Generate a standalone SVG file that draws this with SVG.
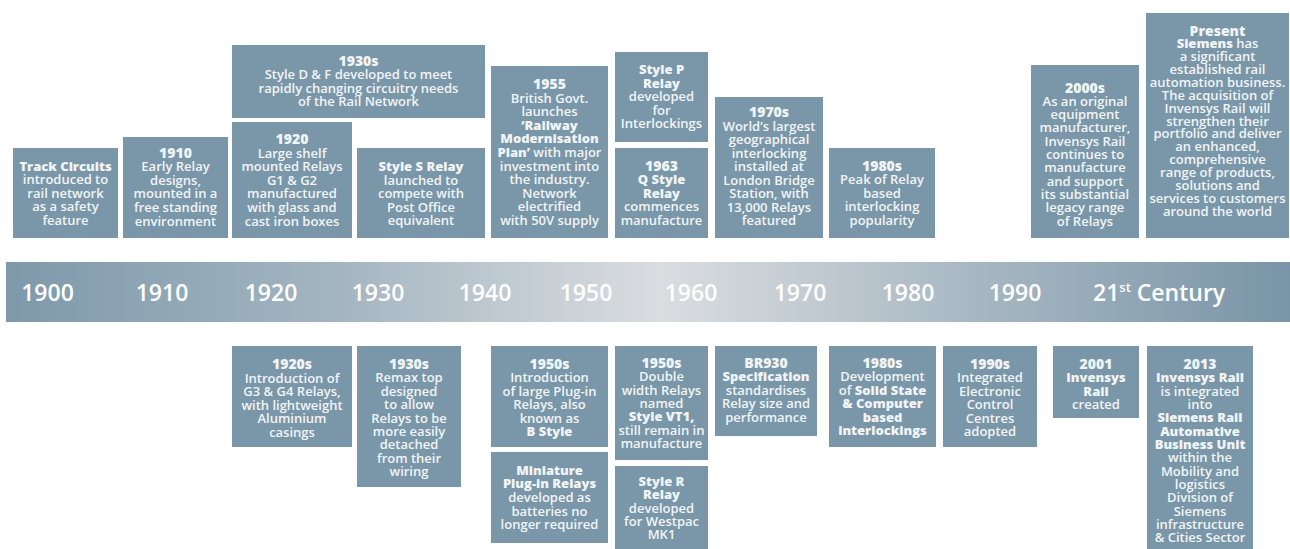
<svg xmlns="http://www.w3.org/2000/svg" width="1290" height="549" viewBox="0 0 1290 549">
<style>
.box{fill:#7a97a9}
.t{font-family:"Open Sans","Noto Sans",sans-serif;font-size:13px;font-weight:600;fill:#f1f4f6;text-anchor:middle}
.h{font-size:14px;font-weight:800}
.b{font-weight:800}
.yr{font-family:"Open Sans","Noto Sans",sans-serif;font-size:23px;font-weight:600;fill:#ffffff;text-anchor:middle}
</style>
<defs>
<linearGradient id="bar" x1="0" y1="0" x2="1" y2="0">
<stop offset="0" stop-color="#7e99ab"/>
<stop offset="0.25" stop-color="#a2b4c0"/>
<stop offset="0.51" stop-color="#dadde0"/>
<stop offset="0.75" stop-color="#a8b8c3"/>
<stop offset="1" stop-color="#7995a7"/>
</linearGradient>
</defs>
<rect width="1290" height="549" fill="#ffffff"/>
<g id="timeline">
<rect x="6" y="262" width="1284" height="60" fill="url(#bar)"/>
<text class="yr" x="47.5" y="301">1900</text>
<text class="yr" x="162" y="301">1910</text>
<text class="yr" x="271" y="301">1920</text>
<text class="yr" x="378" y="301">1930</text>
<text class="yr" x="485" y="301">1940</text>
<text class="yr" x="586" y="301">1950</text>
<text class="yr" x="691" y="301">1960</text>
<text class="yr" x="800" y="301">1970</text>
<text class="yr" x="908" y="301">1980</text>
<text class="yr" x="1015" y="301">1990</text>
<text class="yr" x="1093" y="301" style="text-anchor:start">21<tspan font-size="13" dy="-9">st</tspan><tspan dy="9"> Century</tspan></text>
</g>
<g id="connectors"/>
<g id="n-track"><rect class="box" x="13" y="148" width="105" height="90"/>
<text class="t"><tspan class="b" x="65.5" y="170.5">Track Circuits</tspan><tspan x="65.5" y="184.1">introduced to</tspan><tspan x="65.5" y="197.7">rail network</tspan><tspan x="65.5" y="211.3">as a safety</tspan><tspan x="65.5" y="224.9">feature</tspan></text></g>
<g id="n-1910"><rect class="box" x="123" y="137" width="105" height="101"/>
<text class="t"><tspan class="h" x="175.5" y="157.5">1910</tspan><tspan x="175.5" y="171.2">Early Relay</tspan><tspan x="175.5" y="184.8">designs,</tspan><tspan x="175.5" y="198.4">mounted in a</tspan><tspan x="175.5" y="212">free standing</tspan><tspan x="175.5" y="225.6">environment</tspan></text></g>
<g id="n-1920"><rect class="box" x="232" y="122" width="120" height="116"/>
<text class="t"><tspan class="h" x="292" y="144">1920</tspan><tspan x="292" y="157.6">Large shelf</tspan><tspan x="292" y="171.2">mounted Relays</tspan><tspan x="292" y="184.8">G1 &amp; G2</tspan><tspan x="292" y="198.4">manufactured</tspan><tspan x="292" y="212">with glass and</tspan><tspan x="292" y="225.6">cast iron boxes</tspan></text></g>
<g id="n-1930s-top"><rect class="box" x="232" y="45" width="253" height="73"/>
<text class="t"><tspan class="h" x="358.5" y="66">1930s</tspan><tspan x="358.5" y="79.4">Style D &amp; F developed to meet</tspan><tspan x="358.5" y="92.8">rapidly changing circuitry needs</tspan><tspan x="358.5" y="106.2">of the Rail Network</tspan></text></g>
<g id="n-styles"><rect class="box" x="357" y="148" width="128" height="90"/>
<text class="t"><tspan class="b" x="421" y="171">Style S Relay</tspan><tspan x="421" y="184.6">launched to</tspan><tspan x="421" y="198.2">compete with</tspan><tspan x="421" y="211.8">Post Office</tspan><tspan x="421" y="225.4">equivalent</tspan></text></g>
<g id="n-1955"><rect class="box" x="491" y="66" width="117" height="172"/>
<text class="t"><tspan class="h" x="549.5" y="89">1955</tspan><tspan x="549.5" y="102.6">British Govt.</tspan><tspan x="549.5" y="116.2">launches</tspan><tspan class="b" x="549.5" y="129.8">‘Railway</tspan><tspan class="b" x="549.5" y="143.4">Modernisation</tspan><tspan x="549.5" y="157"><tspan class="b">Plan’</tspan> with major</tspan><tspan x="549.5" y="170.6">investment into</tspan><tspan x="549.5" y="184.2">the industry.</tspan><tspan x="549.5" y="197.8">Network</tspan><tspan x="549.5" y="211.4">electrified</tspan><tspan x="549.5" y="225">with 50V supply</tspan></text></g>
<g id="n-stylep"><rect class="box" x="615" y="52" width="93" height="90"/>
<text class="t"><tspan class="b" x="661.5" y="74">Style P</tspan><tspan class="b" x="661.5" y="87.5">Relay</tspan><tspan x="661.5" y="101">developed</tspan><tspan x="661.5" y="114.5">for</tspan><tspan x="661.5" y="128">Interlockings</tspan></text></g>
<g id="n-1963"><rect class="box" x="615" y="148" width="93" height="90"/>
<text class="t"><tspan class="h" x="661.5" y="170.5">1963</tspan><tspan class="b" x="661.5" y="184.1">Q Style</tspan><tspan class="b" x="661.5" y="197.7">Relay</tspan><tspan x="661.5" y="211.3">commences</tspan><tspan x="661.5" y="224.9">manufacture</tspan></text></g>
<g id="n-1970s"><rect class="box" x="715" y="97" width="108" height="141"/>
<text class="t"><tspan class="h" x="769" y="117.2">1970s</tspan><tspan x="769" y="130.7">World’s largest</tspan><tspan x="769" y="144.2">geographical</tspan><tspan x="769" y="157.7">interlocking</tspan><tspan x="769" y="171.2">installed at</tspan><tspan x="769" y="184.7">London Bridge</tspan><tspan x="769" y="198.2">Station, with</tspan><tspan x="769" y="211.7">13,000 Relays</tspan><tspan x="769" y="225.2">featured</tspan></text></g>
<g id="n-1980s-top"><rect class="box" x="829" y="148" width="106" height="90"/>
<text class="t"><tspan class="h" x="882" y="170.5">1980s</tspan><tspan x="882" y="184.1">Peak of Relay</tspan><tspan x="882" y="197.7">based</tspan><tspan x="882" y="211.3">interlocking</tspan><tspan x="882" y="224.9">popularity</tspan></text></g>
<g id="n-2000s"><rect class="box" x="1031" y="65" width="108" height="173"/>
<text class="t"><tspan class="h" x="1085" y="92.5">2000s</tspan><tspan x="1085" y="105.8">As an original</tspan><tspan x="1085" y="119.1">equipment</tspan><tspan x="1085" y="132.4">manufacturer,</tspan><tspan x="1085" y="145.7">Invensys Rail</tspan><tspan x="1085" y="159">continues to</tspan><tspan x="1085" y="172.3">manufacture</tspan><tspan x="1085" y="185.6">and support</tspan><tspan x="1085" y="198.9">its substantial</tspan><tspan x="1085" y="212.2">legacy range</tspan><tspan x="1085" y="225.5">of Relays</tspan></text></g>
<g id="n-present"><rect class="box" x="1146" y="13" width="143" height="225"/>
<text class="t"><tspan class="h" x="1217.5" y="35.5">Present</tspan><tspan x="1217.5" y="48.4"><tspan class="b">Siemens</tspan> has</tspan><tspan x="1217.5" y="61.2">a significant</tspan><tspan x="1217.5" y="74.1">established rail</tspan><tspan x="1217.5" y="86.9">automation business.</tspan><tspan x="1217.5" y="99.8">The acquisition of</tspan><tspan x="1217.5" y="112.7">Invensys Rail will</tspan><tspan x="1217.5" y="125.5">strengthen their</tspan><tspan x="1217.5" y="138.4">portfolio and deliver</tspan><tspan x="1217.5" y="151.2">an enhanced,</tspan><tspan x="1217.5" y="164.1">comprehensive</tspan><tspan x="1217.5" y="177">range of products,</tspan><tspan x="1217.5" y="189.8">solutions and</tspan><tspan x="1217.5" y="202.7">services to customers</tspan><tspan x="1217.5" y="215.5">around the world</tspan></text></g>
<g id="n-1920s"><rect class="box" x="232" y="346" width="120" height="101"/>
<text class="t"><tspan class="h" x="292" y="369">1920s</tspan><tspan x="292" y="382.5">Introduction of</tspan><tspan x="292" y="396">G3 &amp; G4 Relays,</tspan><tspan x="292" y="409.5">with lightweight</tspan><tspan x="292" y="423">Aluminium</tspan><tspan x="292" y="436.5">casings</tspan></text></g>
<g id="n-1930s-bot"><rect class="box" x="357" y="346" width="104" height="141"/>
<text class="t"><tspan class="h" x="409" y="369">1930s</tspan><tspan x="409" y="382.4">Remax top</tspan><tspan x="409" y="395.8">designed</tspan><tspan x="409" y="409.2">to allow</tspan><tspan x="409" y="422.6">Relays to be</tspan><tspan x="409" y="436">more easily</tspan><tspan x="409" y="449.4">detached</tspan><tspan x="409" y="462.8">from their</tspan><tspan x="409" y="476.2">wiring</tspan></text></g>
<g id="n-1950s-b"><rect class="box" x="491" y="346" width="117" height="101"/>
<text class="t"><tspan class="h" x="549.5" y="369">1950s</tspan><tspan x="549.5" y="382.4">Introduction</tspan><tspan x="549.5" y="395.8">of large Plug-in</tspan><tspan x="549.5" y="409.2">Relays, also</tspan><tspan x="549.5" y="422.6">known as</tspan><tspan class="b" x="549.5" y="436">B Style</tspan></text></g>
<g id="n-miniature"><rect class="box" x="491" y="452" width="117" height="91"/>
<text class="t"><tspan class="b" x="549.5" y="474.5">Miniature</tspan><tspan class="b" x="549.5" y="488.2">Plug-in Relays</tspan><tspan x="549.5" y="501.9">developed as</tspan><tspan x="549.5" y="515.6">batteries no</tspan><tspan x="549.5" y="529.3">longer required</tspan></text></g>
<g id="n-1950s-vt1"><rect class="box" x="615" y="346" width="93" height="114"/>
<text class="t"><tspan class="h" x="661.5" y="368">1950s</tspan><tspan x="661.5" y="381.3">Double</tspan><tspan x="661.5" y="394.7">width Relays</tspan><tspan x="661.5" y="408">named</tspan><tspan class="b" x="661.5" y="421.4">Style VT1,</tspan><tspan x="661.5" y="434.7">still remain in</tspan><tspan x="661.5" y="448">manufacture</tspan></text></g>
<g id="n-styler"><rect class="box" x="615" y="466" width="93" height="83"/>
<text class="t"><tspan class="b" x="661.5" y="486">Style R</tspan><tspan class="b" x="661.5" y="499.3">Relay</tspan><tspan x="661.5" y="512.6">developed</tspan><tspan x="661.5" y="525.9">for Westpac</tspan><tspan x="661.5" y="539.2">MK1</tspan></text></g>
<g id="n-br930"><rect class="box" x="715" y="346" width="102" height="90"/>
<text class="t"><tspan class="h" x="766" y="368">BR930</tspan><tspan class="b" x="766" y="381.4">Specification</tspan><tspan x="766" y="394.8">standardises</tspan><tspan x="766" y="408.2">Relay size and</tspan><tspan x="766" y="421.6">performance</tspan></text></g>
<g id="n-1980s-bot"><rect class="box" x="829" y="346" width="107" height="101"/>
<text class="t"><tspan class="h" x="882.5" y="368">1980s</tspan><tspan x="882.5" y="381.4">Development</tspan><tspan x="882.5" y="394.8">of <tspan class="b">Solid State</tspan></tspan><tspan class="b" x="882.5" y="408.2">&amp; Computer</tspan><tspan class="b" x="882.5" y="421.6">based</tspan><tspan class="b" x="882.5" y="435">interlockings</tspan></text></g>
<g id="n-1990s"><rect class="box" x="943" y="346" width="94" height="101"/>
<text class="t"><tspan class="h" x="990" y="369">1990s</tspan><tspan x="990" y="382.4">Integrated</tspan><tspan x="990" y="395.8">Electronic</tspan><tspan x="990" y="409.2">Control</tspan><tspan x="990" y="422.6">Centres</tspan><tspan x="990" y="436">adopted</tspan></text></g>
<g id="n-2001"><rect class="box" x="1053" y="346" width="86" height="72"/>
<text class="t"><tspan class="h" x="1096" y="369">2001</tspan><tspan class="b" x="1096" y="382.3">Invensys</tspan><tspan class="b" x="1096" y="395.6">Rail</tspan><tspan x="1096" y="408.9">created</tspan></text></g>
<g id="n-2013"><rect class="box" x="1147" y="346" width="106" height="203"/>
<text class="t"><tspan class="h" x="1200" y="369">2013</tspan><tspan class="b" x="1200" y="382.3">Invensys Rail</tspan><tspan x="1200" y="395.7">is integrated</tspan><tspan x="1200" y="409">into</tspan><tspan class="b" x="1200" y="422.3">Siemens Rail</tspan><tspan class="b" x="1200" y="435.7">Automative</tspan><tspan class="b" x="1200" y="449">Business Unit</tspan><tspan x="1200" y="462.3">within the</tspan><tspan x="1200" y="475.7">Mobility and</tspan><tspan x="1200" y="489">logistics</tspan><tspan x="1200" y="502.3">Division of</tspan><tspan x="1200" y="515.7">Siemens</tspan><tspan x="1200" y="529">infrastructure</tspan><tspan x="1200" y="542.3">&amp; Cities Sector</tspan></text></g>
</svg>
